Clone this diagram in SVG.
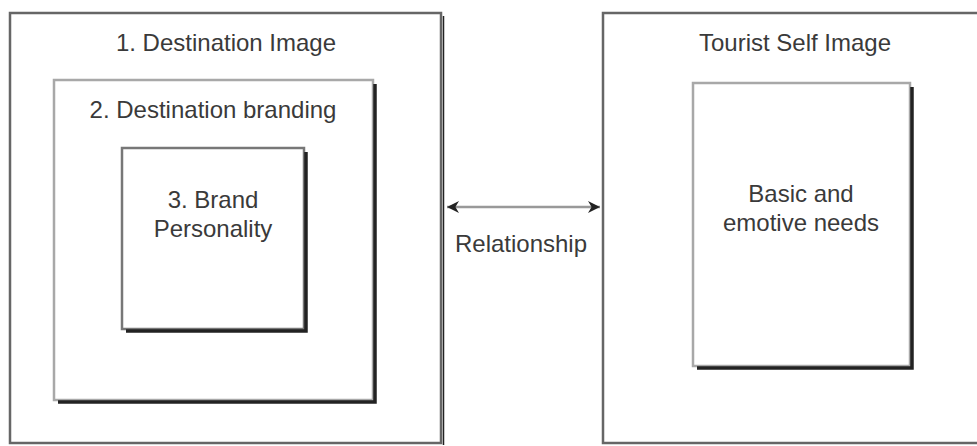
<svg xmlns="http://www.w3.org/2000/svg" width="977" height="446" viewBox="0 0 977 446">
<style>
text{font-family:"Liberation Sans",Arial,sans-serif;font-size:24px;fill:#3a3a3a;text-anchor:middle}
.outer{fill:#fff;stroke:#666;stroke-width:2.5}
.inner{fill:#fff;stroke:#a8a8a8;stroke-width:2.5}
.mid{fill:#fff;stroke:#777;stroke-width:2.5}
.shadow{fill:none;stroke:#222;stroke-width:3.5}
.conn{stroke:#999;stroke-width:2.5;fill:none}
</style>
<defs>
<marker id="ah" viewBox="0 0 10 10" refX="10" refY="5" markerWidth="12" markerHeight="14" markerUnits="userSpaceOnUse" orient="auto-start-reverse">
<path d="M0,0 L10,5 L0,10 L3,5 Z" fill="#222"/>
</marker>
</defs>
<rect width="977" height="446" fill="#fff"/>
<g id="destination-image">
<rect class="outer" x="10" y="13" width="431" height="430"/>
<path d="M443.5,16 V445" stroke="#222" stroke-width="1.5" fill="none"/>
<text x="226" y="51">1. Destination Image</text>
</g>
<g id="destination-branding">
<rect class="inner" x="54" y="80" width="319" height="320"/>
<path class="shadow" d="M375,84 V402 H58"/>
<text x="213" y="118">2. Destination branding</text>
</g>
<g id="brand-personality">
<rect class="mid" x="122" y="148" width="182" height="181"/>
<path class="shadow" d="M306,152 V331 H126"/>
<text x="213" y="208">3. Brand</text>
<text x="213" y="237">Personality</text>
</g>
<g id="tourist-self-image">
<rect class="outer" x="603" y="13" width="390" height="430"/>
<text x="795" y="51">Tourist Self Image</text>
</g>
<g id="basic-emotive-needs">
<rect class="inner" x="693" y="83" width="217" height="283"/>
<path class="shadow" d="M912,87 V368 H697"/>
<text x="801" y="202">Basic and</text>
<text x="801" y="231">emotive needs</text>
</g>
<g id="connectors">
<path class="conn" d="M447,207 H600" marker-start="url(#ah)" marker-end="url(#ah)"/>
<text x="521" y="252">Relationship</text>
</g>
</svg>
